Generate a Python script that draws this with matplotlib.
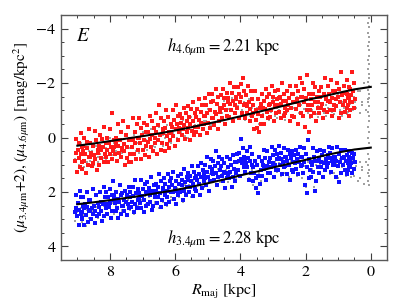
import numpy as np
import matplotlib
matplotlib.use("Agg")
import matplotlib.pyplot as plt
from matplotlib.ticker import MultipleLocator

plt.rcParams['font.family'] = ['STIXGeneral', 'DejaVu Serif']
plt.rcParams['mathtext.fontset'] = 'stix'

# ---------------- data ----------------
bins = [8.95, 8.75, 8.5, 8.25, 8.0, 7.75, 7.5, 7.25, 7.0, 6.75, 6.5, 6.25, 6.0, 5.75,
        5.5, 5.25, 5.0, 4.75, 4.5, 4.25, 4.0, 3.75, 3.5, 3.25, 3.0, 2.75, 2.5, 2.25,
        2.0, 1.75, 1.5, 1.25, 1.0, 0.75, 0.6]

red_vals = [
    [0.3, 0.9, -0.15, 0.6, 1.1, 0.2, 0.75, 0.45, 1.25, 0.05, 0.55, 0.85],
    [0.7, -0.3, 1.0, 0.4, 0.15, 1.3, 0.6, 0.85, 0.0, 0.5, 1.15, 0.35],
    [0.45, 1.2, 0.1, 0.8, -0.25, 0.65, 0.95, 0.3, 1.05, 0.55, 0.2, 0.7],
    [0.2, 0.6, -0.4, 0.9, 0.35, 0.05, 0.75, 0.45, -0.1, 1.0, 0.3, 0.55],
    [0.1, 0.5, -0.9, 0.8, 0.35, -0.3, 0.6, 0.2, 0.9, 0.0, 0.45, 0.7],
    [0.4, -0.2, 0.7, 0.1, 0.55, -0.5, 0.3, 0.85, 0.2, 0.0, 0.6, 0.35],
    [0.6, 0.1, 0.9, -0.4, 0.35, 0.75, -0.1, 1.0, 0.25, 0.5, -0.6, 0.45],
    [0.0, 0.45, -0.5, 0.8, 0.2, -0.2, 0.6, 0.1, -0.7, 0.35, 0.9, 0.05],
    [-0.2, 0.3, 0.65, -0.55, 0.1, 0.45, -0.1, 0.8, -0.35, 0.2, 0.0, -0.7],
    [0.2, -0.35, 0.5, -0.1, -0.6, 0.35, 0.05, -0.8, 0.7, -0.2, 0.15, -0.45],
    [-0.3, 0.2, -0.7, 0.45, -0.1, -1.2, 0.1, -0.45, 0.6, -0.2, -0.9, 0.0],
    [-0.5, 0.1, -0.2, 0.4, -0.75, -0.05, 0.25, -1.0, -0.35, 0.5, -0.6, -0.15],
    [-0.2, -0.8, 0.1, -0.5, -1.2, -0.3, 0.3, -0.65, -0.05, -1.0, -0.4, -0.15],
    [-0.6, -0.2, -0.9, 0.05, -0.45, -1.1, -0.3, -0.7, -0.1, -0.55, -0.85, -0.35],
    [-0.4, -0.9, -0.1, -1.3, -0.6, -0.25, -1.05, -0.5, 0.1, -0.75, -0.35, -1.15],
    [-0.8, -0.3, -1.2, -0.55, -0.95, -0.1, -1.4, -0.65, -0.4, -1.05, -0.75, -0.2],
    [-0.7, -1.3, -0.35, -1.0, -1.6, -0.55, -0.9, -0.15, -1.2, -0.8, -1.45, -0.5],
    [-1.1, -0.6, -1.5, -0.3, -1.25, -0.85, -1.8, -0.95, -0.45, -1.35, -0.7, -1.6],
    [-1.3, -0.8, -1.65, -1.0, -0.5, -1.45, -1.2, -1.8, -0.7, -1.1, -1.55, -0.95],
    [-1.5, -0.9, -1.2, -1.85, -0.6, -1.35, -1.65, -1.0, -2.0, -1.25, -0.75, -1.45],
    [-1.7, -1.2, -2.2, -0.9, -1.5, -1.95, -1.3, -0.7, -1.6, -1.85, -1.1, -1.4],
    [-1.4, -0.8, -1.7, -1.05, -0.6, -1.3, -1.9, -1.15, -0.9, -1.55, -1.25, -0.7],
    [-0.5, -1.1, -0.2, -0.85, -1.4, -0.35, -1.0, -0.65, -1.7, -0.3, -0.9, -1.2],
    [-1.2, -0.7, -1.5, -0.95, -1.8, -1.05, -0.5, -1.35, -1.1, -0.8, -1.6, -1.25],
    [-1.4, -0.9, -1.7, -1.15, -0.6, -1.5, -1.3, -1.9, -1.0, -1.25, -0.75, -1.6],
    [-1.1, -1.6, -0.8, -1.35, -2.0, -1.25, -0.7, -1.5, -1.45, -0.95, -1.75, -1.2],
    [-1.3, -0.8, -1.6, -1.1, -1.9, -0.6, -1.45, -1.2, -1.0, -1.7, -1.35, -0.9],
    [-1.5, -0.9, -2.2, -1.2, -1.7, -0.5, -1.4, -1.05, -1.9, -1.3, -0.75, -1.6],
    [-1.6, -0.2, -1.2, -2.3, -1.0, -1.45, -0.4, -1.8, -1.3, -0.8, -2.0, -1.5],
    [-1.1, -1.5, -0.6, -1.85, -1.3, -0.9, -1.6, -2.0, -1.2, -0.8, -1.4, -1.0],
    [-1.4, -2.2, -1.0, -1.6, -0.7, -1.25, -1.85, -1.1, -1.5, -0.9, -1.7, -1.3],
    [-1.2, -1.7, -0.8, -1.45, -2.1, -1.3, -1.0, -1.6, -1.9, -1.35, -0.95, -1.5],
    [-1.6, -0.9, -2.4, -1.3, -1.8, -0.7, -1.5, -2.0, -1.15, -1.4, -1.7, -1.0],
    [-1.3, -1.8, -0.8, -1.5, -2.1, -1.1, -1.65, -1.35, -0.95, -1.9, -1.2, -1.55],
    [-1.4, -2.0, -1.1, -1.7, -2.4, -1.3, -1.55, -1.0, -1.85, -1.45, -1.2, -1.6],
]

blue_vals = [
    [2.5, 3.0, 2.2, 2.8, 1.95, 2.65, 3.2, 2.4, 2.9, 2.6, 2.1, 2.75],
    [2.7, 2.3, 3.1, 2.55, 2.0, 2.85, 2.45, 3.2, 2.6, 2.2, 2.95, 2.75],
    [2.4, 2.9, 2.1, 2.7, 3.15, 2.5, 1.9, 2.8, 2.6, 3.0, 2.3, 2.65],
    [2.6, 2.2, 2.9, 1.8, 2.45, 3.05, 2.35, 2.7, 2.0, 2.55, 2.8, 2.4],
    [2.3, 1.6, 2.7, 2.1, 2.95, 2.4, 1.9, 2.55, 2.2, 2.8, 2.45, 2.0],
    [2.5, 2.1, 2.8, 1.75, 2.35, 2.95, 2.25, 2.6, 2.0, 2.7, 2.4, 2.15],
    [2.2, 2.6, 1.8, 2.45, 2.85, 2.1, 2.35, 1.95, 2.7, 2.3, 2.5, 2.05],
    [2.3, 1.9, 2.6, 2.05, 1.55, 2.45, 2.75, 2.15, 1.8, 2.35, 2.55, 2.0],
    [2.0, 2.5, 1.7, 2.3, 2.75, 1.9, 2.15, 2.6, 1.55, 2.4, 2.05, 2.25],
    [2.2, 1.75, 2.5, 1.95, 2.65, 1.45, 2.1, 2.35, 1.85, 2.0, 2.45, 1.65],
    [1.9, 2.3, 1.6, 2.55, 2.05, 1.35, 2.2, 1.8, 2.4, 1.95, 1.7, 2.15],
    [2.0, 1.6, 2.35, 1.8, 1.35, 2.2, 1.95, 2.45, 1.7, 2.1, 1.5, 1.85],
    [1.7, 2.1, 1.4, 1.95, 2.45, 1.6, 1.85, 2.25, 1.25, 2.0, 1.75, 1.5],
    [1.8, 1.45, 2.1, 1.65, 1.15, 1.95, 2.3, 1.55, 1.75, 1.35, 2.0, 1.7],
    [1.5, 1.9, 1.25, 1.7, 2.15, 1.05, 1.6, 1.8, 1.4, 2.0, 1.55, 1.3],
    [1.6, 1.2, 1.85, 0.95, 1.45, 2.1, 1.35, 1.7, 1.05, 1.55, 1.95, 1.4],
    [1.3, 0.8, 1.6, 1.1, 1.95, 1.45, 0.7, 1.25, 1.75, 1.0, 1.5, 1.35],
    [1.2, 0.7, 1.45, 0.95, 1.75, 0.5, 1.3, 1.05, 1.55, 0.85, 1.35, 1.15],
    [1.1, 1.5, 0.7, 1.3, 1.85, 0.95, 1.25, 1.6, 0.8, 1.4, 1.05, 1.2],
    [1.3, 0.9, 1.6, 1.15, 0.65, 1.45, 1.8, 1.0, 1.25, 0.8, 1.5, 1.35],
    [0.7, 1.1, 0.4, 0.95, 0.05, 0.8, 1.4, 0.55, 0.85, 1.2, 0.6, 0.9],
    [1.0, 0.6, 1.3, 0.35, 0.85, 1.55, 0.75, 1.1, 0.5, 0.95, 1.25, 0.8],
    [1.2, 1.7, 0.7, 1.4, 2.05, 1.0, 1.5, 1.85, 0.85, 1.3, 1.6, 1.1],
    [0.9, 1.3, 0.5, 1.05, 1.55, 0.75, 1.15, 0.45, 1.0, 1.4, 0.85, 1.2],
    [0.8, 1.2, 0.45, 1.0, 1.45, 0.65, 0.95, 0.35, 1.1, 0.75, 1.3, 0.9],
    [0.7, 1.1, 0.4, 0.9, 1.35, 0.55, 0.8, 1.0, 0.3, 0.75, 1.2, 0.6],
    [0.9, 0.5, 1.2, 0.75, 1.55, 0.6, 1.0, 0.45, 0.85, 1.35, 0.7, 1.05],
    [0.7, 1.05, 0.35, 0.9, 1.35, 0.6, 0.8, 1.15, 0.45, 0.95, 0.65, 1.25],
    [0.8, 1.5, 0.1, 1.1, 2.05, 0.6, 1.75, 0.9, 0.4, 1.3, 0.7, 1.0],
    [1.1, 0.5, 1.6, 0.85, 1.95, 0.7, 1.25, 0.4, 1.0, 1.45, 0.9, 1.2],
    [0.8, 1.2, 0.5, 0.95, 1.45, 0.65, 0.9, 1.1, 0.45, 0.75, 1.3, 0.85],
    [0.7, 1.0, 0.4, 0.85, 1.25, 0.55, 0.75, 0.35, 0.95, 0.65, 1.1, 0.8],
    [0.75, 1.3, 0.45, 0.9, 1.65, 0.6, 1.05, 0.35, 0.85, 1.45, 0.7, 1.0],
    [0.8, 1.1, 0.5, 0.95, 1.35, 0.65, 0.85, 0.45, 1.2, 0.7, 1.0, 0.75],
    [0.9, 0.6, 1.15, 0.75, 1.3, 0.55, 0.95, 0.8, 1.05, 0.7, 1.2, 0.85],
]

gray_bins = bins + [0.4, 0.2]
gray_top = [
    [0.6, 0.2, 1.0, 0.45, 0.8], [0.5, 0.9, 0.25, 1.1, 0.65], [0.7, 0.3, 1.0, 0.5, 0.85],
    [0.4, 0.75, 0.1, 0.6, 0.9], [0.3, 0.65, 0.0, 0.5, 0.8], [0.35, 0.7, 0.05, 0.5, 0.2],
    [0.4, 0.1, 0.7, 0.25, 0.55], [0.2, 0.5, -0.1, 0.35, 0.65], [0.1, 0.4, -0.2, 0.25, 0.55],
    [0.0, 0.3, -0.3, 0.15, 0.45], [-0.1, 0.2, -0.4, 0.05, 0.35], [-0.15, 0.15, -0.45, 0.0, 0.3],
    [-0.3, 0.0, -0.6, -0.15, 0.2], [-0.35, -0.05, -0.65, -0.2, 0.1], [-0.45, -0.15, -0.75, -0.3, 0.0],
    [-0.6, -0.3, -0.9, -0.45, -0.15], [-0.75, -0.45, -1.05, -0.6, -0.3], [-0.9, -0.6, -1.2, -0.75, -0.45],
    [-1.05, -0.75, -1.35, -0.9, -0.6], [-1.15, -0.85, -1.45, -1.0, -0.7], [-1.3, -1.0, -1.6, -1.15, -0.85],
    [-1.1, -0.8, -1.4, -0.95, -0.65], [-0.8, -0.5, -1.1, -0.65, -0.35], [-1.0, -0.7, -1.3, -0.85, -0.55],
    [-1.1, -0.8, -1.4, -0.95, -0.65], [-1.15, -0.85, -1.45, -1.0, -0.7], [-1.1, -0.8, -1.4, -0.95, -0.65],
    [-1.2, -0.9, -1.5, -1.05, -0.75], [-1.2, -0.9, -1.5, -1.05, -0.75], [-1.15, -0.85, -1.45, -1.0, -0.7],
    [-1.2, -0.9, -1.5, -1.05, -0.75], [-1.25, -0.95, -1.55, -1.1, -0.8], [-1.3, -1.0, -1.6, -1.15, -0.85],
    [-1.25, -0.95, -1.55, -1.1, -0.8], [-1.3, -1.0, -1.6, -1.15, -0.85],
    [-1.3, -0.9, -1.7, -1.1, -1.5], [-1.4, -1.0, -2.0, -1.2, -1.7],
]
gray_bot = [
    [2.9, 2.6, 3.2, 2.75, 3.05], [2.95, 2.65, 3.25, 2.8, 3.1], [2.85, 2.55, 3.15, 2.7, 3.0],
    [2.8, 2.5, 3.1, 2.65, 2.95], [2.7, 2.4, 3.0, 2.55, 2.85], [2.65, 2.35, 2.95, 2.5, 2.8],
    [2.6, 2.3, 2.9, 2.45, 2.75], [2.5, 2.2, 2.8, 2.35, 2.65], [2.45, 2.15, 2.75, 2.3, 2.6],
    [2.35, 2.05, 2.65, 2.2, 2.5], [2.3, 2.0, 2.6, 2.15, 2.45], [2.2, 1.9, 2.5, 2.05, 2.35],
    [2.15, 1.85, 2.45, 2.0, 2.3], [2.05, 1.75, 2.35, 1.9, 2.2], [1.9, 1.6, 2.2, 1.75, 2.05],
    [1.8, 1.5, 2.1, 1.65, 1.95], [1.65, 1.35, 1.95, 1.5, 1.8], [1.45, 1.15, 1.75, 1.3, 1.6],
    [1.5, 1.2, 1.8, 1.35, 1.65], [1.5, 1.2, 1.8, 1.35, 1.65], [1.1, 0.8, 1.4, 0.95, 1.25],
    [1.2, 0.9, 1.5, 1.05, 1.35], [1.6, 1.3, 1.9, 1.45, 1.75], [1.3, 1.0, 1.6, 1.15, 1.45],
    [1.2, 0.9, 1.5, 1.05, 1.35], [1.1, 0.8, 1.4, 0.95, 1.25], [1.15, 0.85, 1.45, 1.0, 1.3],
    [1.1, 0.8, 1.4, 0.95, 1.25], [1.2, 0.9, 1.8, 1.05, 1.5], [1.3, 1.0, 1.8, 1.15, 1.5],
    [1.15, 0.85, 1.45, 1.0, 1.3], [1.05, 0.75, 1.35, 0.9, 1.2], [1.1, 0.8, 1.5, 0.95, 1.3],
    [1.1, 0.8, 1.4, 0.95, 1.25], [1.15, 0.85, 1.45, 1.0, 1.3],
    [1.2, 0.9, 1.6, 1.05, 1.4], [1.3, 0.9, 1.7, 1.1, 1.5],
]

# central gray column
col_r = [0.05, 0.08, 0.04, 0.07, 0.06, 0.05, 0.09, 0.04, 0.06, 0.08, 0.05, 0.07,
         0.04, 0.06, 0.08, 0.05, 0.07, 0.04, 0.06, 0.09, 0.05, 0.07, 0.04, 0.06,
         0.08, 0.05, 0.07, 0.04, 0.06, 0.08, 0.05, 0.07, 0.04, 0.06, 0.08, 0.05]
col_v = [-4.4, -4.2, -4.05, -3.85, -3.7, -3.5, -3.35, -3.2, -3.0, -2.85, -2.7, -2.5,
         -2.35, -2.2, -2.05, -1.9, -1.75, -1.6, -1.45, -1.3, -1.15, -0.95, -0.8, -0.6,
         -0.4, -0.2, 0.0, 0.2, 0.4, 0.6, 0.8, 1.0, 1.2, 1.4, 1.6, 1.75]

fit_r = [9.0, 8.5, 8.0, 7.5, 7.0, 6.5, 6.0, 5.5, 5.0, 4.5, 4.0, 3.5, 3.0, 2.5, 2.0, 1.5, 1.0, 0.5, 0.0]
red_fit = [0.30, 0.22, 0.13, 0.04, -0.05, -0.15, -0.26, -0.38, -0.51, -0.64, -0.78, -0.93,
           -1.07, -1.22, -1.37, -1.50, -1.64, -1.77, -1.86]
blue_fit = [2.45, 2.38, 2.30, 2.22, 2.13, 2.03, 1.93, 1.81, 1.68, 1.54, 1.39, 1.25,
            1.10, 0.96, 0.82, 0.68, 0.55, 0.44, 0.37]

label_top = r"$h_{4.6\mu\mathrm{m}} = 2.21\ \mathrm{kpc}$"
label_bot = r"$h_{3.4\mu\mathrm{m}} = 2.28\ \mathrm{kpc}$"

# ---------------- helpers ----------------
def spread(centers, vals, half=0.12):
    xs, ys = [], []
    for c, vv in zip(centers, vals):
        n = len(vv)
        off = np.linspace(-half, half, n)
        xs.extend(c + off)
        ys.extend(vv)
    return np.array(xs), np.array(ys)

fig = plt.figure(figsize=(4.07, 3.07), dpi=100)
ax = fig.add_axes([0.150, 0.153, 0.801, 0.798])

gx1, gy1 = spread(gray_bins, gray_top)
gx2, gy2 = spread(gray_bins, gray_bot)
ax.scatter(gx1, gy1, s=2.2, c='#a0a0a0', marker='s', linewidths=0, zorder=1)
ax.scatter(gx2, gy2, s=2.2, c='#a0a0a0', marker='s', linewidths=0, zorder=1)
ax.scatter(col_r, col_v, s=1.6, c='#a0a0a0', marker='s', linewidths=0, zorder=1)

rx, ry = spread(bins, red_vals)
bx, by = spread(bins, blue_vals)
ax.scatter(rx, ry, s=5.5, c='#ff1a1a', marker='s', linewidths=0, zorder=2)
ax.scatter(bx, by, s=5.5, c='#1010ff', marker='s', linewidths=0, zorder=2)

ax.plot(fit_r, red_fit, color='black', lw=1.5, zorder=3)
ax.plot(fit_r, blue_fit, color='black', lw=1.5, zorder=3)

ax.set_xlim(9.5, -0.5)
ax.set_ylim(4.5, -4.5)
ax.xaxis.set_major_locator(MultipleLocator(2))
ax.xaxis.set_minor_locator(MultipleLocator(0.5))
ax.yaxis.set_major_locator(MultipleLocator(2))
ax.yaxis.set_minor_locator(MultipleLocator(0.5))
ax.tick_params(which='both', direction='in', top=True, right=True, color='0.25',
               labelsize=11.5, pad=4)
ax.tick_params(which='major', length=5, width=0.8)
ax.tick_params(which='minor', length=2.5, width=0.7)
ax.yaxis.set_major_formatter(matplotlib.ticker.FuncFormatter(
    lambda v, p: ("\u2212%d" % abs(v)) if v < 0 else "%d" % v))
for sp in ax.spines.values():
    sp.set_color('0.35')
    sp.set_linewidth(1.0)

ax.set_xlabel(r"$R_{\mathrm{maj}}$ [kpc]", fontsize=11.5, labelpad=2)
ax.set_ylabel(r"$(\mu_{3.4\mu\mathrm{m}}$+2), $(\mu_{4.6\mu\mathrm{m}})$ [mag/kpc$^2$]",
              fontsize=11, labelpad=3)

ax.text(9.05, -3.7, r"$E$", fontsize=14, ha='left', va='center')
ax.text(4.5, -3.33, label_top, fontsize=12, ha='center', va='center')
ax.text(4.5, 3.7, label_bot, fontsize=12, ha='center', va='center')

fig.savefig("out.png", dpi=100)
